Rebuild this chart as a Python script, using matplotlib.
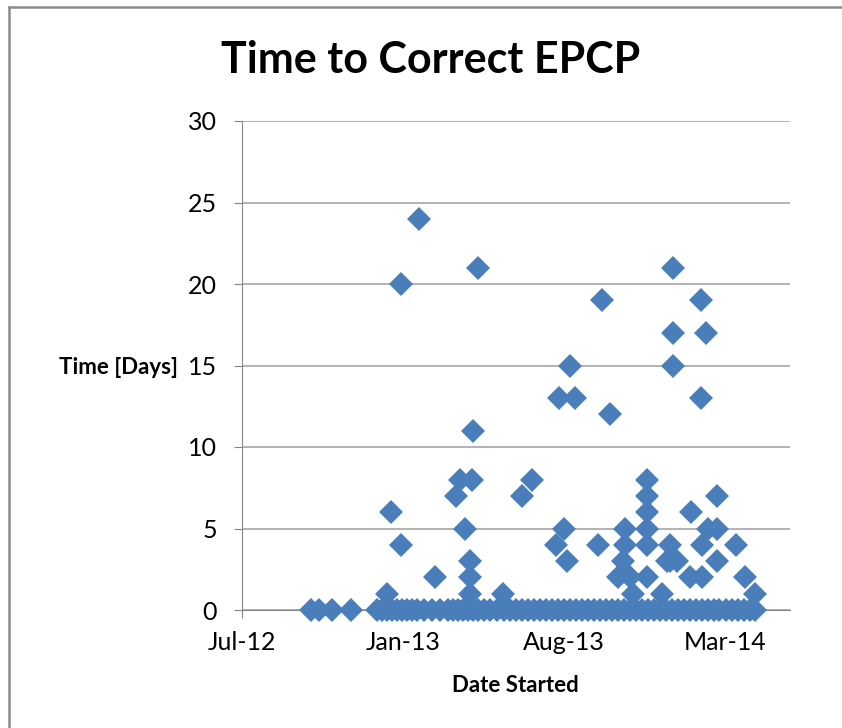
import matplotlib
matplotlib.use("Agg")
import matplotlib.pyplot as plt
import matplotlib.dates as mdates
from matplotlib.lines import Line2D
import pandas as pd

# date started, as Excel serial numbers, and days to correct
serial_nonzero = [41280, 41285, 41298, 41298, 41322, 41343, 41370, 41375, 41382, 41388,
                  41388, 41388, 41391, 41392, 41399, 41431, 41456, 41469, 41501, 41504,
                  41511, 41515, 41519, 41525, 41555, 41561, 41571, 41581, 41588, 41591,
                  41591, 41597, 41601, 41619, 41619, 41619, 41619, 41619, 41619, 41639,
                  41645, 41649, 41649, 41653, 41653, 41653, 41658, 41677, 41675, 41690,
                  41690, 41691, 41691, 41697, 41699, 41711, 41711, 41711, 41735, 41747,
                  41760]
days_nonzero = [1, 6, 20, 4, 24, 2, 7, 8, 5, 3,
                2, 1, 8, 11, 21, 1, 7, 8, 4, 13,
                5, 3, 15, 13, 4, 19, 12, 2, 3, 5,
                4, 2, 1, 8, 7, 6, 5, 4, 2, 1,
                3, 4, 3, 21, 17, 15, 3, 6, 2, 19,
                13, 4, 2, 17, 5, 7, 5, 3, 4, 2,
                1]

serial_zero = [41181, 41191, 41208, 41233, 41267, 41274, 41280, 41287, 41293, 41300,
               41306, 41313, 41319, 41328, 41339, 41349, 41360, 41366, 41373, 41379,
               41386, 41392, 41399, 41407, 41414, 41424, 41433, 41441, 41448, 41456,
               41464, 41472, 41480, 41487, 41495, 41503, 41511, 41519, 41527, 41534,
               41542, 41550, 41558, 41566, 41574, 41581, 41589, 41597, 41605, 41613,
               41621, 41628, 41636, 41644, 41652, 41660, 41668, 41675, 41683, 41691,
               41699, 41707, 41714, 41722, 41730, 41738, 41746, 41754, 41760]

tick_dates = ["2012-07-01", "2013-01-27", "2013-08-25", "2014-03-23"]
x_range = ["2012-07-01", "2014-06-16"]

serials = serial_nonzero + serial_zero
days = days_nonzero + [0] * len(serial_zero)
dates = pd.to_datetime(serials, unit="D", origin="1899-12-30")

plt.rcParams["font.family"] = ["Lato", "DejaVu Sans"]

fig = plt.figure(figsize=(8.42, 7.28), dpi=100)
ax = fig.add_axes([242 / 842, 1 - 610 / 728, (790 - 242) / 842, (610 - 121) / 728])

ax.plot(dates, days, linestyle="none", marker="D", markersize=12,
        color="#4a7ebb", markeredgewidth=0, clip_on=False, zorder=3)

ax.set_ylim(0, 30)
ax.set_yticks(range(0, 31, 5))
ax.set_xlim(pd.to_datetime(x_range))
ax.set_xticks(pd.to_datetime(tick_dates))
ax.xaxis.set_major_formatter(mdates.DateFormatter("%b-%y"))

grid_color = "#a6a6a6"
ax.yaxis.grid(True, color=grid_color, linewidth=1.2)
ax.set_axisbelow(True)
for side in ["top", "right"]:
    ax.spines[side].set_visible(False)
ax.spines["left"].set_color("#868686")
ax.spines["bottom"].set_color("#868686")
ax.tick_params(axis="both", colors="#868686", labelcolor="black", labelsize=18,
               length=6, direction="out")
ax.tick_params(axis="y", pad=12)
ax.tick_params(axis="x", pad=9)

fig.text(431 / 842, 1 - 60 / 728, "Time to Correct EPCP", ha="center", va="center",
         fontsize=31, fontweight="bold")
fig.text(178 / 842, 1 - 368 / 728, "Time [Days]", ha="right", va="center",
         fontsize=16, fontweight="bold")
fig.text(515 / 842, 1 - 686 / 728, "Date Started", ha="center", va="center",
         fontsize=16, fontweight="bold")

# chart border (only left and top edges visible in the crop)
fig.add_artist(Line2D([9 / 842, 9 / 842], [0, 1 - 7 / 728], transform=fig.transFigure,
                      color="#8c8c8c", linewidth=1.8))
fig.add_artist(Line2D([9 / 842, 1], [1 - 7 / 728, 1 - 7 / 728], transform=fig.transFigure,
                      color="#8c8c8c", linewidth=1.8))

fig.savefig("out.png", dpi=100)
